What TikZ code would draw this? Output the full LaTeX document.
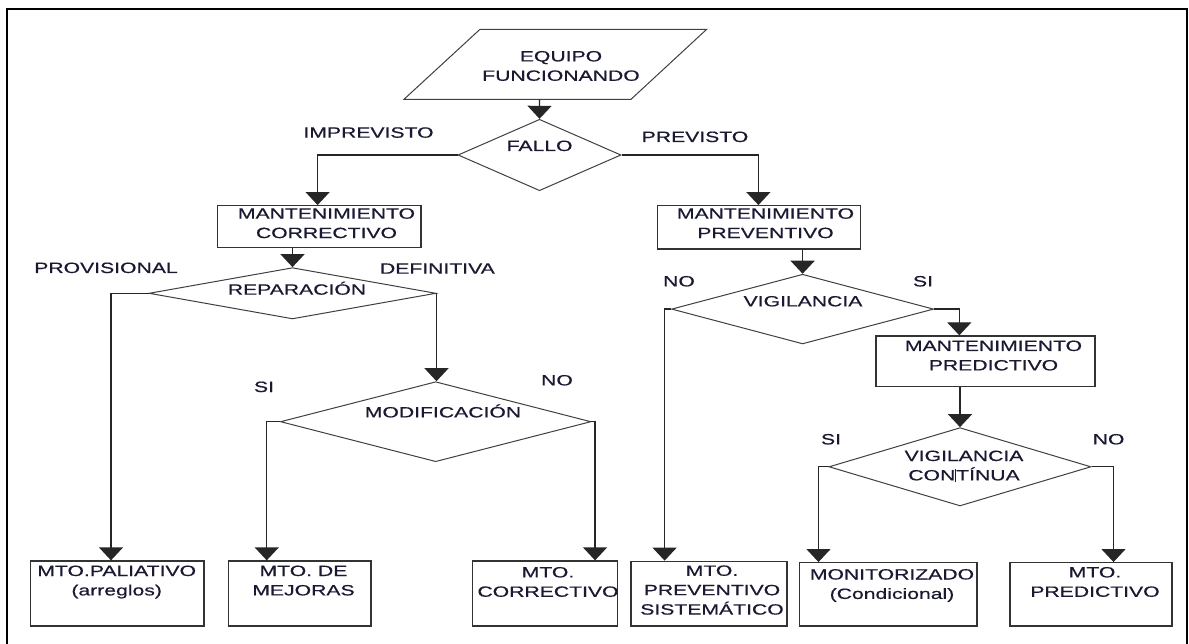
\documentclass[tikz,border=0pt]{standalone}
\usepackage{fontspec}
\setmainfont{Liberation Sans}[FakeStretch=1.42,FakeBold=0.5]
\usetikzlibrary{shapes.geometric,arrows.meta}
\definecolor{ink}{RGB}{25,25,50}
\begin{document}
\begin{tikzpicture}[x=1pt,y=-1pt,
  txt/.style={font=\fontsize{14.9}{19.4}\selectfont, text=ink, align=center, anchor=base, inner sep=0pt},
  box/.style={draw=black!80, line width=1.3pt, rectangle, inner sep=0pt},
  dia/.style={draw=black!75, line width=1pt, diamond, inner sep=0pt},
  conn/.style={draw=black!85, line width=1.3pt, -{Triangle[width=24pt,length=13pt]}},
]
% page and outer frame
\useasboundingbox (0,0) rectangle (1189,644);
\fill[white] (0,0) rectangle (1189,644);
\draw[line width=2pt] (6.7,660) -- (6.7,9.5) -- (1187.3,9.5) -- (1187.3,660);

% start symbol
\draw[draw=black!75, line width=1pt] (480,29.3) -- (706.7,29.3) -- (631,99.3) -- (404,99.3) -- cycle;
\coordinate (eqout) at (539.6,99.3);
% multi-line texts are placed by the baseline of their last line
\node[txt] (t-eq) at (561,80.8) {EQUIPO\\FUNCIONANDO};

% decisions
\node[dia, minimum width=163pt, minimum height=71.4pt] (fallo) at (539.5,155) {};
\node[dia, minimum width=287pt, minimum height=51.3pt] (rep) at (292.5,293.3) {};
\node[dia, minimum width=310.5pt, minimum height=80pt] (mod) at (435.7,421.7) {};
\node[dia, minimum width=262pt, minimum height=69.7pt] (vig) at (802.6,309.1) {};
\node[dia, minimum width=262pt, minimum height=78.3pt] (vc) at (960,466.8) {};

\node[txt] (t-fallo) at (539.6,151) {FALLO};
\node[txt] (t-rep) at (297,294.7) {REPARACIÓN};
\node[txt] (t-mod) at (443,417.4) {MODIFICACIÓN};
\node[txt] (t-vig) at (803,306.4) {VIGILANCIA};
\node[txt] (t-vc) at (964,480.4) {VIGILANCIA\\CON\rule[-2pt]{0.9pt}{13pt}TÍNUA};

% process boxes
\node[box, minimum width=203.6pt, minimum height=41.6pt] (mc) at (319.2,226.5) {};
\node[box, minimum width=203.2pt, minimum height=43.3pt] (mp) at (759,227.35) {};
\node[box, minimum width=219pt, minimum height=50.7pt] (mpred) at (985.5,361.35) {};
\node[box, minimum width=173.4pt, minimum height=65pt] (pal) at (117.3,593.5) {};
\node[box, minimum width=142.5pt, minimum height=65pt] (mej) at (299.75,593.5) {};
\node[box, minimum width=144.9pt, minimum height=65pt] (cor) at (545.05,593.5) {};
\node[box, minimum width=156pt, minimum height=64.7pt] (ps) at (709,593.65) {};
\node[box, minimum width=177.3pt, minimum height=63.3pt] (mon) at (888.35,594.35) {};
\node[box, minimum width=162pt, minimum height=63.3pt] (mpr) at (1091,594.35) {};

\node[txt] (t-mc) at (326.5,238.1) {MANTENIMIENTO\\CORRECTIVO};
\node[txt] (t-mp) at (765.5,238.1) {MANTENIMIENTO\\PREVENTIVO};
\node[txt] (t-mpred) at (993.5,370.4) {MANTENIMIENTO\\PREDICTIVO};
\node[txt] (t-pal) at (116.7,595.4) {MTO.PALIATIVO\\(arreglos)};
\node[txt] (t-mej) at (303.5,595.4) {MTO. DE\\MEJORAS};
\node[txt] (t-cor) at (548,596.8) {MTO.\\CORRECTIVO};
\node[txt] (t-ps) at (712,614.6) {MTO.\\PREVENTIVO\\SISTEMÁTICO};
\node[txt] (t-mon) at (892,598.9) {MONITORIZADO\\(Condicional)};
\node[txt] (t-mpr) at (1095,596.8) {MTO.\\PREDICTIVO};

% branch labels
\node[txt] (l-imp) at (368.5,137.7) {IMPREVISTO};
\node[txt] (l-prev) at (695,142) {PREVISTO};
\node[txt] (l-prov) at (106,273) {PROVISIONAL};
\node[txt] (l-def) at (437.4,273.7) {DEFINITIVA};
\node[txt] (l-si1) at (264,392) {SI};
\node[txt] (l-no1) at (557,385.4) {NO};
\node[txt] (l-no2) at (679,286.4) {NO};
\node[txt] (l-si2) at (923,286.4) {SI};
\node[txt] (l-si3) at (831,444.4) {SI};
\node[txt] (l-no3) at (1108.6,444.4) {NO};

% connectors
\draw[conn] (eqout) -- (fallo.north);
\draw[conn] (fallo.west) -| ([xshift=-1.6pt]mc.north);
\draw[conn] (fallo.east) -| ([xshift=-0.6pt]mp.north);
\draw[conn] (rep.north |- mc.south) -- (rep.north);
\draw[conn] (rep.west) -| ([xshift=-6.3pt]pal.north);
\draw[conn] (rep.east) -- (rep.east |- mod.north);
\draw[conn] (mod.west) -| ([xshift=-33pt]mej.north);
\draw[conn] (mod.east) -| ([xshift=50pt]cor.north);
\draw[conn] (vig.north |- mp.south) -- (vig.north);
\draw[conn] (vig.west) -| ([xshift=-44.4pt]ps.north);
\draw[conn] (vig.east) -| ([xshift=-26.2pt]mpred.north);
\draw[conn] (vc.north |- mpred.south) -- (vc.north);
\draw[conn] (vc.west) -| ([xshift=-69.85pt]mon.north);
\draw[conn] (vc.east) -| ([xshift=22.5pt]mpr.north);
\end{tikzpicture}
\end{document}
